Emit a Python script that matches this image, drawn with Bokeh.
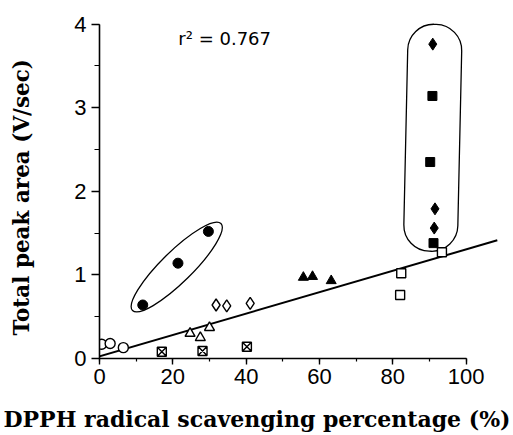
from bokeh.plotting import figure
from bokeh.models import Range1d, SingleIntervalTicker, Label, Title
from bokeh.embed import file_html
from bokeh.resources import INLINE

# ---- data ----
open_circle_x = [0.6, 2.9, 6.5]
open_circle_y = [0.17, 0.18, 0.13]
filled_circle_x = [11.8, 21.4, 29.7]
filled_circle_y = [0.64, 1.14, 1.52]
crossed_square_x = [17.0, 28.1, 40.2]
crossed_square_y = [0.08, 0.09, 0.14]
open_triangle_x = [24.7, 27.5, 30.0]
open_triangle_y = [0.30, 0.25, 0.37]
open_diamond_x = [31.8, 34.7, 41.1]
open_diamond_y = [0.64, 0.63, 0.66]
filled_triangle_x = [55.6, 58.1, 63.2]
filled_triangle_y = [0.97, 0.98, 0.93]
open_square_x = [82.3, 82.0, 93.4]
open_square_y = [1.02, 0.76, 1.27]
filled_square_x = [90.8, 90.2, 91.1]
filled_square_y = [3.14, 2.35, 1.38]
filled_diamond_x = [90.9, 91.5, 91.3]
filled_diamond_y = [3.76, 1.79, 1.56]

fit_intercept = 0.025
fit_slope = 0.0128
fit_x = [-1.0, 108.5]
r2_text = "r\u00b2 = 0.767"
x_title = "DPPH radical scavenging percentage (%)"
y_title = "Total peak area (V/sec)"

x_ticks_interval = 20
y_ticks_interval = 1

p = figure(width=513, height=435, output_backend="svg", toolbar_location=None,
           x_range=Range1d(0, 112.1), y_range=Range1d(0, 4.246),
           min_border_left=99, min_border_right=3, min_border_top=3,
           min_border_bottom=77)
p.outline_line_color = None
p.grid.visible = False
p.background_fill_color = "white"

for ax, tk, bnds in ((p.xaxis[0], SingleIntervalTicker(interval=x_ticks_interval, num_minor_ticks=2), (0, 100)),
                     (p.yaxis[0], SingleIntervalTicker(interval=y_ticks_interval, num_minor_ticks=2), (0, 4))):
    ax.ticker = tk
    ax.bounds = bnds
    ax.axis_line_color = "black"
    ax.axis_line_width = 1.6
    ax.major_tick_line_color = "black"
    ax.major_tick_line_width = 1.4
    ax.minor_tick_line_color = "black"
    ax.minor_tick_line_width = 1.2
    ax.major_tick_in = 0
    ax.minor_tick_in = 0
    ax.major_label_text_font = "Liberation Sans"
    ax.major_label_text_font_size = "22px"
    ax.major_label_text_color = "black"
    # blank spacer label, used only to push the titles outward
    ax.axis_label = " "
    ax.axis_label_text_font_size = "8px"

p.xaxis.major_tick_out = 6
p.xaxis.minor_tick_out = 3
p.xaxis.major_label_standoff = 4
p.xaxis.axis_label_standoff = 4
p.yaxis.major_tick_out = 8
p.yaxis.minor_tick_out = 5
p.yaxis.major_label_standoff = 5
p.yaxis.axis_label_standoff = 25

# regression line
fit_y = [fit_intercept + fit_slope * v for v in fit_x]
p.line(fit_x, fit_y, line_color="black", line_width=2)

# enclosing shapes
cx_e = sum(filled_circle_x) / 3
cy_e = sum(filled_circle_y) / 3
p.ellipse(x=[cx_e + 0.1], y=[cy_e - 0.006], width=124, height=31, width_units="screen",
          height_units="screen", angle=0.777, fill_color=None, line_color="black", line_width=1.3)
p.rect(x=[90.9], y=[2.64], width=54, height=227, width_units="screen", height_units="screen",
       angle=-0.022, border_radius=26, fill_color=None, line_color="black", line_width=1.3)

lw = 1.4
p.scatter(open_circle_x, open_circle_y, marker="circle", size=10, fill_color="white", line_color="black", line_width=lw)
p.scatter(filled_circle_x, filled_circle_y, marker="circle", size=10, fill_color="black", line_color="black")
p.scatter(crossed_square_x, crossed_square_y, marker="square_x", size=9, fill_color="white", line_color="black", line_width=lw)
p.scatter(open_triangle_x, open_triangle_y, marker="triangle", size=10, fill_color="white", line_color="black", line_width=lw)
p.scatter(open_diamond_x, open_diamond_y, marker="diamond", size=12, fill_color="white", line_color="black", line_width=lw)
p.scatter(filled_triangle_x, filled_triangle_y, marker="triangle", size=10, fill_color="black", line_color="black")
p.scatter(open_square_x, open_square_y, marker="square", size=9, fill_color="white", line_color="black", line_width=lw)
p.scatter(filled_square_x, filled_square_y, marker="square", size=9, fill_color="black", line_color="black")
p.scatter(filled_diamond_x, filled_diamond_y, marker="diamond", size=12, fill_color="black", line_color="black")

# texts
p.add_layout(Label(x=21.5, y=3.83, text=r2_text, text_font="DejaVu Sans", text_font_size="18px",
                   text_color="black", text_baseline="alphabetic", text_align="left"))
p.add_layout(Title(text=x_title, align="left", offset=-96, vertical_align="bottom", standoff=2,
                   text_font="DejaVu Serif", text_font_style="bold", text_font_size="22px",
                   text_color="black"), "below")
p.add_layout(Title(text=y_title, align="left", offset=23, vertical_align="bottom", standoff=2,
                   text_font="DejaVu Serif", text_font_style="bold", text_font_size="21.5px",
                   text_color="black"), "left")

open("out.html", "w").write(file_html(p, INLINE))
